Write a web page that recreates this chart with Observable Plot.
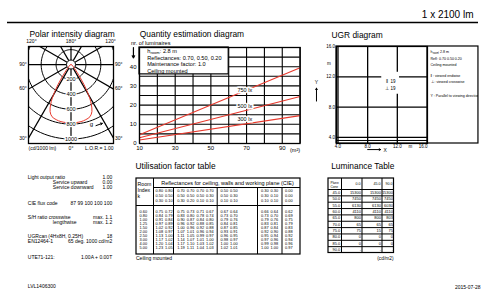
<!DOCTYPE html>
<html><head><meta charset="utf-8">
<script src="https://cdn.jsdelivr.net/npm/d3@7"></script>
<script src="https://cdn.jsdelivr.net/npm/@observablehq/plot@0.6"></script>
<style>
html,body{margin:0;padding:0;background:#fff}
#page{position:relative;width:486px;height:292px;overflow:hidden;background:#fff}
#page svg{position:absolute;left:0;top:0}
</style></head><body><div id="page"></div><script>
// ---------------- DATA ----------------
const headerLabel = "1 x 2100 lm";
const chartTitles = ["Polar intensity diagram", "Quantity estimation diagram", "UGR diagram", "Utilisation factor table", "Luminance Table"];

const polarGamma = [0, 10, 15, 20, 24, 27, 29, 31, 33, 35, 38, 42, 50, 60, 75, 90];
const polarCd    = [784, 778, 766, 745, 690, 600, 520, 420, 320, 220, 130, 70, 35, 15, 5, 0];
const polarRings = [200, 400, 600, 800, 1000];
const polarSpokes = [0, 30, 60, 90, 120, 150, 180, 210, 240, 270, 300, 330];
const polarEdgeLabels = ["120°", "180°", "120°", "90°", "60°", "30°", "90°", "60°", "30°"];
const polarFoot = ["(cd/1000 lm)", "0°", "L.O.R.= 1.00"];

const qArea = [10, 100];
const qN750 = [4.5, 39.5];
const qN500 = [3.0, 24.5];
const qN300 = [1.8, 14.5];
const qLevelLabels = ["750 lx", "500 lx", "300 lx"];
const qYTicks = [0, 10, 20, 30, 40];
const qXTicks = [10, 30, 50, 70, 90];
const qInfo = ["Reflectances: 0.70, 0.50, 0.20", "Maintenance factor: 1.0", "Ceiling mounted"];
const hRoomValue = ": 2.8 m";

const ugrTicks = [4, 8, 12, 16];
const ugrSymbols = ["‖", "⊥"];
const ugrValues = [19, 19];
const ugrLegend = ["Refl: 0.70 0.50 0.20", "Ceiling mounted", "‖ : viewed endwise", "⊥ : viewed crosswise", "Y : Parallel to viewing direction"];

const infoLabels = ["Light output ratio", "Service upward", "Service downward", "CIE flux code", "S/H ratio crosswise", "lengthwise", "UGRcan (4Hx8H, 0.25H)", "EN12464-1", "UTE71-121:"];
const infoValues = ["1.00", "0.00", "1.00", "87 99 100 100 100", "max. 1.1", "max. 1.2", "18", "65 deg. 1000 cd/m2", "1.00A + 0.00T"];
const docId = "LVL1406300", docDate = "2015-07-28";

const ufHeader = "Reflectances for ceiling, walls and working plane (CIE)";
const ufKHeader = ["Room", "Index", "k"];
const ufK = ["0.60", "0.80", "1.00", "1.25", "1.50", "2.00", "2.50", "3.00", "4.00", "5.00"];
const ufCeiling = ["0.80", "0.80", "0.70", "0.70", "0.70", "0.70", "0.50", "0.50", "0.30", "0.30", "0.00"];
const ufWalls   = ["0.50", "0.50", "0.50", "0.50", "0.50", "0.30", "0.50", "0.30", "0.30", "0.10", "0.00"];
const ufPlane   = ["0.30", "0.10", "0.30", "0.20", "0.10", "0.10", "0.10", "0.10", "0.10", "0.10", "0.00"];
const ufValues = [
  ["0.75","0.72","0.75","0.73","0.71","0.67","0.67","0.64","0.66","0.64","0.62"],
  ["0.84","0.79","0.83","0.80","0.78","0.74","0.73","0.70","0.73","0.70","0.69"],
  ["0.91","0.84","0.90","0.87","0.84","0.80","0.79","0.76","0.79","0.76","0.75"],
  ["0.97","0.89","0.96","0.92","0.88","0.85","0.84","0.81","0.83","0.81","0.79"],
  ["1.02","0.92","1.00","0.96","0.92","0.88","0.87","0.85","0.87","0.84","0.83"],
  ["1.08","0.97","1.07","1.01","0.96","0.94","0.93","0.91","0.92","0.90","0.88"],
  ["1.13","1.00","1.11","1.05","0.99","0.97","0.96","0.95","0.95","0.94","0.92"],
  ["1.17","1.02","1.14","1.07","1.01","1.00","0.98","0.97","0.97","0.96","0.94"],
  ["1.20","1.04","1.17","1.10","1.03","1.02","1.00","1.00","0.99","0.98","0.96"],
  ["1.23","1.05","1.19","1.11","1.04","1.03","1.02","1.01","1.00","1.00","0.97"]
];
const ufNote = "Ceiling mounted";

const lumHeader = ["Plane", "Cone"];
const lumPlanes = ["0.0", "45.0", "90.0"];
const lumCones = ["45.0", "50.0", "55.0", "60.0", "65.0", "70.0", "75.0", "80.0", "85.0", "90.0"];
const lumValues = [
  ["15300","15300","15300"],
  ["7450","7450","7450"],
  ["6130","6130","6030"],
  ["4110","4110","4110"],
  ["800","800","803"],
  ["65","65","65"],
  ["75","15","75"],
  ["0","0","0"],
  ["0","0","0"],
  ["-","-","-"]
];
const lumUnit = "(cd/m2)";

// ---------------- LAYOUT ----------------
const FONT = "'Liberation Sans', Arial, Helvetica, sans-serif";
const W = 486, H = 292;
const page = document.getElementById("page");
function add(opts) {
  const svg = Plot.plot({width: W, height: H, ...opts,
    style: {background: "transparent", fontFamily: FONT, overflow: "visible"}});
  page.appendChild(svg);
}
const ID = {type: "identity", axis: null};
const rad = d => d * Math.PI / 180;
const RED = "#e8392d";

// ---- Polar intensity diagram ----
const ringPts = polarRings.flatMap(r => d3.range(0, 361, 3).map(a => ({r, a})));
const curvePts = [
  ...polarGamma.map((g, i) => ({g: -g, I: polarCd[i]})).reverse(),
  ...polarGamma.slice(1).map((g, i) => ({g, I: polarCd[i + 1]}))
];
const polarEdgePos = [[-530, 309], [0, 309], [530, 309], [-644, 0], [-644, -326], [-644, -987], [640, 0], [640, -326], [640, -987]];
add({
  marginLeft: 28, marginRight: 373, marginTop: 46, marginBottom: 149,
  x: {domain: [-570, 570], axis: null},
  y: {domain: [-1060, 242], axis: null},
  marks: [
    Plot.line(ringPts, {x: d => d.r * Math.sin(rad(d.a)), y: d => d.r * Math.cos(rad(d.a)), z: "r", stroke: "#000", strokeWidth: 1, clip: true}),
    Plot.link(polarSpokes, {x1: a => 60 * Math.sin(rad(a)), y1: a => -60 * Math.cos(rad(a)), x2: a => 3000 * Math.sin(rad(a)), y2: a => -3000 * Math.cos(rad(a)), stroke: "#000", strokeWidth: 1.2, clip: true}),
    Plot.dot([0], {x: 0, y: 0, r: 4.5, fill: "#fff", stroke: "#000", strokeWidth: 1}),
    Plot.line(curvePts, {x: d => d.I * Math.sin(rad(d.g)), y: d => -d.I * Math.cos(rad(d.g)), stroke: RED, strokeWidth: 1, curve: "catmull-rom"}),
    Plot.text(polarRings, {x: 0, y: d => -d, text: d => String(d), fontSize: 5.5, fill: "#000", stroke: "#fff", strokeWidth: 2.5}),
    Plot.frame({stroke: "#000", strokeWidth: 1.3}),
    Plot.text(polarEdgeLabels, {x: (d, i) => polarEdgePos[i][0], y: (d, i) => polarEdgePos[i][1], text: d => d, fontSize: 5}),
    Plot.text([polarFoot[0]], {x: -570, y: -1121, text: d => d, textAnchor: "start", fontSize: 5}),
    Plot.text([polarFoot[1]], {x: 0, y: -1121, text: d => d, fontSize: 5}),
    Plot.text([polarFoot[2]], {x: 570, y: -1121, text: d => d, textAnchor: "end", fontSize: 5}),
    Plot.text(["g"], {x: 275, y: -805, text: d => d, fontSize: 6, fill: "#000", stroke: "#fff", strokeWidth: 2}),
    Plot.arrow([0], {x1: 335, y1: -820, x2: 420, y2: -790, stroke: "#000", strokeWidth: 1, headLength: 3})
  ]
});

// ---- Quantity estimation diagram ----
const qLines = [qN750, qN500, qN300].flatMap((s, k) => s.map((n, i) => ({k, a: qArea[i], n})));
const qLabelPos = [[64.9, 27.6], [64.9, 19.3], [64.9, 12.5]];
add({
  marginLeft: 139, marginRight: 186.4, marginTop: 47, marginBottom: 149,
  x: {domain: [10, 100]},
  y: {domain: [0, 50]},
  marks: [
    Plot.ruleX(d3.range(10, 101, 10), {stroke: "#000", strokeWidth: 1.1}),
    Plot.ruleY(d3.range(0, 51, 5), {stroke: "#000", strokeWidth: 1.1}),
    Plot.rect([0], {x1: 10, x2: 60, y1: 36, y2: 50, fill: "#fff", stroke: "#000", strokeWidth: 1.2}),
    Plot.line(qLines, {x: "a", y: "n", z: "k", stroke: RED, strokeWidth: 1.1}),
    Plot.text(qLevelLabels, {x: (d, i) => qLabelPos[i][0], y: (d, i) => qLabelPos[i][1], text: d => d, textAnchor: "start", fontSize: 5.5, fill: "#000", stroke: "#fff", strokeWidth: 3}),
    Plot.frame({stroke: "#000", strokeWidth: 1.3}),
    Plot.axisY(qYTicks, {tickSize: 0, tickPadding: 3, fontSize: 6, label: null}),
    Plot.axisX(qXTicks, {tickSize: 0, tickPadding: 2, fontSize: 6, label: null}),
    Plot.text(["(m²)"], {x: 100, y: 0, dy: 5, text: d => d, textAnchor: "end", lineAnchor: "top", fontSize: 5.5}),
    Plot.arrow([0], {x1: 6.6, y1: 50, x2: 6.6, y2: 44.6, stroke: "#000", strokeWidth: 1.2, headLength: 3})
  ]
});

// ---- UGR diagram ----
add({
  marginLeft: 336, marginRight: 59, marginTop: 46, marginBottom: 149,
  x: {domain: [3.8, 16.07], axis: null},
  y: {domain: [3.2, 16], axis: null},
  marks: [
    Plot.rect([0], {x1: 3.8, x2: 22.94, y1: 3.2, y2: 16, fill: "none", stroke: "#000", strokeWidth: 1.2}),
    Plot.ruleX(ugrTicks, {stroke: "#000", strokeWidth: 1.3}),
    Plot.ruleY([4, 8, 12], {stroke: "#000", strokeWidth: 1.3}),
    Plot.ruleY([3.6], {stroke: "#000", strokeWidth: 1}),
    Plot.frame({stroke: "#000", strokeWidth: 1.2}),
    Plot.rect([0], {x1: 9.9, x2: 12.3, y1: 9.7, y2: 12.6, fill: "#fff"}),
    Plot.text(ugrSymbols, {x: 10.63, y: (d, i) => 11.42 - i, text: d => d, fontSize: 5}),
    Plot.text(ugrValues, {x: 11.07, y: (d, i) => 11.42 - i, text: d => String(d), textAnchor: "start", fontSize: 4.5}),
    Plot.text(ugrTicks, {x: 3.8, y: d => d, dx: -1.5, text: d => d.toFixed(1), textAnchor: "end", fontSize: 4.5}),
    Plot.text(ugrTicks.slice(0, 3), {x: d => d, y: 2.8, text: d => d.toFixed(1), fontSize: 4.5}),
    Plot.text(ugrTicks.slice(3), {x: 16.07, y: 2.8, text: d => d.toFixed(1), textAnchor: "end", fontSize: 4.5}),
    Plot.text(["m"], {x: 2.76, y: 13.8, text: d => d, fontSize: 4.5}),
    Plot.text(["m"], {x: 13.77, y: 2.8, text: d => d, fontSize: 4.5}),
    Plot.text(["Y"], {x: 1.1, y: 11.3, text: d => d, fontSize: 5}),
    Plot.text(["X"], {x: 10.35, y: 2.3, text: d => d, fontSize: 5}),
    Plot.arrow([0], {x1: 1.1, y1: 8.8, x2: 1.1, y2: 10.5, stroke: "#000", strokeWidth: 1, headLength: 2.5}),
    Plot.arrow([0], {x1: 8.0, y1: 2.4, x2: 9.75, y2: 2.4, stroke: "#000", strokeWidth: 1, headLength: 2.5})
  ]
});

// ---- UGR legend (clipped to its box) ----
const ugrLegY = [58, 64.3, 75.7, 81.2, 95.3];
add({
  marginLeft: 427, marginRight: 8, marginTop: 46, marginBottom: 149,
  x: ID, y: ID,
  marks: [
    Plot.text(["h"], {x: 430, y: 51, text: d => d, textAnchor: "start", fontSize: 3.6, clip: true}),
    Plot.text(["room"], {x: 432.2, y: 52.2, text: d => d, textAnchor: "start", fontSize: 2.6, clip: true}),
    Plot.text([hRoomValue], {x: 437.6, y: 51, text: d => d, textAnchor: "start", fontSize: 3.6, clip: true}),
    Plot.text(ugrLegend, {x: 430, y: (d, i) => ugrLegY[i], text: d => d, textAnchor: "start", fontSize: 3.6, clip: true})
  ]
});

// ---- Page texts & tables ----
const infoY = [176.7, 182, 187.3, 202.7, 216.7, 221.7, 235.7, 240.7, 257];
const infoX = [27.3, 52.3, 52.3, 27.3, 27.3, 52.3, 27.3, 27.3, 27.3];
const titlePos = [[29, 34], [139.3, 34], [331, 34.3], [135, 166], [330.7, 166]];

// UF table geometry
const ufColX = [155, 164.5, 176.7, 186.3, 196, 205.6, 220, 229.6, 260.5, 270, 284.5];
const ufDiv = [153, 173, 216.7, 257, 281.5];
const ufRefY = [190.7, 195.7, 200.7];
const ufRowY = ufK.map((_, i) => 211 + i * 4);
const ufBox = {x1: 136, x2: 300, y1: 178, y2: 254};
const ufRefCells = [ufCeiling, ufWalls, ufPlane].flatMap((row, r) => row.map((t, c) => ({t, x: ufColX[c], y: ufRefY[r]})));
const ufCells = ufValues.flatMap((row, r) => row.map((t, c) => ({t, x: ufColX[c], y: ufRowY[r]})));
const ufV = [{x: ufDiv[0], y1: ufBox.y1, y2: ufBox.y2}, ...ufDiv.slice(1).map(x => ({x, y1: 187, y2: ufBox.y2}))];
const ufH = [{y: 187, x1: ufDiv[0], x2: ufBox.x2}, {y: 205, x1: ufBox.x1, x2: ufBox.x2}];

// Luminance table geometry
const lumDiv = [328, 341, 361.5, 381.5, 393.5];
const lumTop = 178, lumHead = 189, lumBot = 252.5;
const lumRowH = (lumBot - lumHead) / lumCones.length;
const lumRowY = lumCones.map((_, i) => lumHead + (i + 0.5) * lumRowH);
const lumHLines = d3.range(lumCones.length).map(i => lumHead + i * lumRowH);
const lumCells = lumValues.flatMap((row, r) => row.map((t, c) => ({t, x: lumDiv[c + 2] - 1, y: lumRowY[r]})));

add({
  margin: 0,
  x: ID, y: ID,
  marks: [
    Plot.text([headerLabel], {x: 473, y: 14, text: d => d, textAnchor: "end", fontSize: 10}),
    Plot.ruleY([22], {x1: 7, x2: 478, stroke: "#000", strokeWidth: 1.3}),
    Plot.text(chartTitles, {x: (d, i) => titlePos[i][0], y: (d, i) => titlePos[i][1], text: d => d, textAnchor: "start", fontSize: 8.4}),
    // left information block
    Plot.text(infoLabels, {x: (d, i) => infoX[i], y: (d, i) => infoY[i], text: d => d, textAnchor: "start", fontSize: 5}),
    Plot.text(infoValues, {x: 111.7, y: (d, i) => infoY[i], text: d => d, textAnchor: "end", fontSize: 5}),
    Plot.text([docId], {x: 27.3, y: 286, text: d => d, textAnchor: "start", fontSize: 5}),
    Plot.text([docDate], {x: 480, y: 286.7, text: d => d, textAnchor: "end", fontSize: 5}),
    // quantity diagram info box
    Plot.text(["nr. of luminaires"], {x: 130.5, y: 42.3, text: d => d, textAnchor: "start", fontSize: 5.6}),
    Plot.text(["h"], {x: 146.7, y: 51, text: d => d, textAnchor: "start", fontSize: 5.6}),
    Plot.text(["room"], {x: 149.9, y: 52.6, text: d => d, textAnchor: "start", fontSize: 4}),
    Plot.text([hRoomValue], {x: 159.3, y: 51, text: d => d, textAnchor: "start", fontSize: 5.6}),
    Plot.text(qInfo, {x: 146.7, y: (d, i) => 57.7 + i * 6.5, text: d => d, textAnchor: "start", fontSize: 5.6}),
    // utilisation factor table
    Plot.rect([ufBox], {x1: "x1", x2: "x2", y1: "y1", y2: "y2", fill: "none", stroke: "#000", strokeWidth: 1.2}),
    Plot.ruleX(ufV, {x: "x", y1: "y1", y2: "y2", stroke: "#000", strokeWidth: 1}),
    Plot.ruleY(ufH, {y: "y", x1: "x1", x2: "x2", stroke: "#000", strokeWidth: 1}),
    Plot.text([ufHeader], {x: 160.7, y: 182.6, text: d => d, textAnchor: "start", fontSize: 5.5}),
    Plot.text(ufKHeader, {x: 137, y: (d, i) => [184.3, 189.8, 195.6][i], text: d => d, textAnchor: "start", fontSize: 5.2}),
    Plot.text(ufRefCells, {x: "x", y: "y", text: "t", textAnchor: "start", fontSize: 3.9}),
    Plot.text(ufK, {x: 139, y: (d, i) => ufRowY[i], text: d => d, textAnchor: "start", fontSize: 3.9}),
    Plot.text(ufCells, {x: "x", y: "y", text: "t", textAnchor: "start", fontSize: 3.9}),
    Plot.text([ufNote], {x: 135.5, y: 258.3, text: d => d, textAnchor: "start", fontSize: 5}),
    // luminance table
    Plot.rect([0], {x1: lumDiv[0], x2: lumDiv[4], y1: lumTop, y2: lumBot, fill: "none", stroke: "#000", strokeWidth: 1.2}),
    Plot.ruleX(lumDiv.slice(1, 4), {y1: lumTop, y2: lumBot, stroke: "#000", strokeWidth: 1}),
    Plot.ruleY(lumHLines, {x1: lumDiv[0], x2: lumDiv[4], stroke: "#000", strokeWidth: 1}),
    Plot.text(lumHeader, {x: 330, y: (d, i) => 182 + i * 4.3, text: d => d, textAnchor: "start", fontSize: 3.2}),
    Plot.text(lumPlanes, {x: (d, i) => lumDiv[i + 2] - 1.5, y: 183.5, text: d => d, textAnchor: "end", fontSize: 3.6}),
    Plot.text(lumCones, {x: lumDiv[1] - 1.2, y: (d, i) => lumRowY[i], text: d => d, textAnchor: "end", fontSize: 4}),
    Plot.text(lumCells, {x: "x", y: "y", text: "t", textAnchor: "end", fontSize: 4}),
    Plot.text([lumUnit], {x: 393, y: 258.3, text: d => d, textAnchor: "end", fontSize: 4.8})
  ]
});
</script></body></html>
